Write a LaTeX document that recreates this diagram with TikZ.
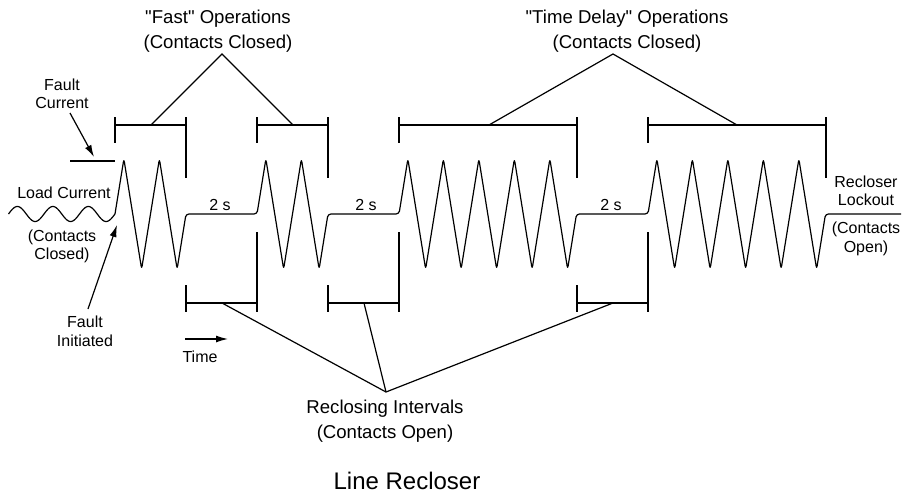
\documentclass[tikz,border=0pt]{standalone}
\usepackage{fontspec}
\setmainfont{Liberation Sans}[Ligatures=TeXOff]
\usetikzlibrary{arrows.meta}
\newcommand\rcTopBracket[2]{%
  \draw[ln] (#1,117) -- (#1,143);
  \draw[ln] (#1,125) -- (#2,125);
  \draw[ln] (#2,117) -- (#2,178);}
\newcommand\rcBotBracket[2]{%
  \draw[ln] (#1,285) -- (#1,312);
  \draw[ln] (#1,303) -- (#2,303);
  \draw[ln] (#2,232) -- (#2,312);}
\begin{document}
\begin{tikzpicture}[x=1pt,y=-1pt,
  ln/.style={line width=1.2pt,black},
  wave/.style={line width=1.2pt,black,rounded corners=3pt,line join=round},
  arr/.style={line width=1.2pt,-{Latex[length=12pt,width=7pt]}},
  biglbl/.style={inner sep=0pt,align=center,font=\fontsize{18.6}{25}\selectfont},
  smlbl/.style={inner sep=0pt,align=center,font=\fontsize{16}{18.5}\selectfont},
  ttl/.style={inner sep=0pt,font=\fontsize{24}{28}\selectfont}]
\useasboundingbox (0,0) rectangle (903,495);

% load current
\draw[ln] plot[domain=8.5:115,samples=150] (\x,{214-7.5*sin(10.14085*(\x-8.5))});

% fault current waveform
\draw[wave] (115,214)
  foreach \k in {0,...,3} { -- ({123.875+17.75*\k},{214-55*cos(180*\k)}) }
  -- (186,214) -- (257,214)
  foreach \k in {0,...,3} { -- ({265.875+17.75*\k},{214-55*cos(180*\k)}) }
  -- (328,214) -- (399,214)
  foreach \k in {0,...,9} { -- ({407.875+17.75*\k},{214-55*cos(180*\k)}) }
  -- (576.5,214) -- (648,214)
  foreach \k in {0,...,9} { -- ({656.875+17.75*\k},{214-55*cos(180*\k)}) }
  -- (825.5,214) -- (901,214);

% brackets
\rcTopBracket{115}{186}
\rcTopBracket{257}{328}
\rcTopBracket{399}{577}
\rcTopBracket{648}{826}
\rcBotBracket{186}{257}
\rcBotBracket{328}{399}
\rcBotBracket{577}{648}

% coordinates
\coordinate (fastA) at (222,54);
\coordinate (fastL) at (151,125);
\coordinate (fastR) at (293,125);
\coordinate (tdA) at (613,54);
\coordinate (tdL) at (489,125);
\coordinate (tdR) at (737,125);
\coordinate (reA) at (386,392);
\coordinate (re1) at (222,303);
\coordinate (re2) at (364,303);
\coordinate (re3) at (613,303);
\coordinate (t0) at (185,339);
\coordinate (t1) at (228,339);
\coordinate (fc0) at (70,113);
\coordinate (fc1) at (94,157);
\coordinate (fi0) at (88,309);
\coordinate (fi1) at (117,225);
\coordinate (fl0) at (70,161);
\coordinate (fl1) at (115,161);

% connectors
\draw[ln] (fastL) -- (fastA) -- (fastR);
\draw[ln] (tdL) -- (tdA) -- (tdR);
\draw[ln] (re1) -- (reA) -- (re3);
\draw[ln] (re2) -- (reA);
\draw[ln] (fl0) -- (fl1);
\draw[arr] (fc0) -- (fc1);
\draw[arr] (fi0) -- (fi1);
\draw[arr] (t0) -- (t1);

% labels
\node[biglbl] (fast) at (218,31) {"Fast" Operations\\(Contacts Closed)};
\node[biglbl] (td) at (627,31) {"Time Delay" Operations\\(Contacts Closed)};
\node[biglbl] (recl) at (385,421.5) {Reclosing Intervals\\(Contacts Open)};
\node[ttl] (title) at (407,481) {Line Recloser};
\node[smlbl] (fcur) at (62,94) {Fault\\Current};
\node[smlbl] (lcur) at (64,193) {Load Current};
\node[smlbl] (cc) at (62,246.5) {(Contacts\\Closed)};
\node[smlbl] (finit) at (85,331.5) {Fault\\Initiated};
\node[smlbl] (lock) at (866,191) {Recloser\\Lockout};
\node[smlbl] (co) at (866,239) {(Contacts\\Open)};
\node[smlbl] (time) at (200,357) {Time};
\node[smlbl] (s1) at (220,205) {2 s};
\node[smlbl] (s2) at (366,205) {2 s};
\node[smlbl] (s3) at (611,205) {2 s};
\end{tikzpicture}
\end{document}
